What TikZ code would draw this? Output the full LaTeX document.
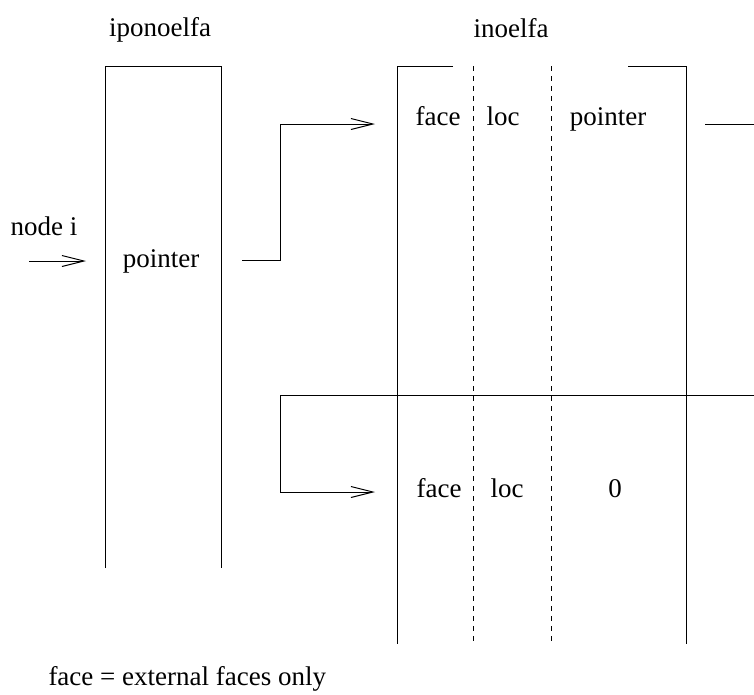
\documentclass[tikz,border=0pt]{standalone}
\usepackage{fontspec}
\setmainfont{Liberation Serif}
\usetikzlibrary{arrows.meta}
\begin{document}
\begin{tikzpicture}[x=1pt,y=-1pt,line width=1pt,
  lbl/.style={anchor=base,inner sep=0pt,font=\fontsize{27}{32}\selectfont},
  sepline/.style={dash pattern=on 5pt off 5pt},
  arr/.style={-{Straight Barb[length=22pt,width=11pt,line width=1pt]}}]
\useasboundingbox (0,0) rectangle (754,694);
% array iponoelfa
\draw (105,568) -- (105,66) -- (221,66) -- (221,568);
% array inoelfa
\draw (453,66) -- (397,66) -- (397,644);
\draw (628,66) -- (686,66) -- (686,644);
\draw[sepline] (473,66) -- (473,644);
\draw[sepline] (551,66) -- (551,644);
\coordinate (midL) at (280,395);
\coordinate (midR) at (754,395);
\draw (midL) -- (midR);
\coordinate (nextL) at (705,124);
\coordinate (nextR) at (754,124);
\draw (nextL) -- (nextR);
% labels
\node[lbl] (tA) at (160,36) {iponoelfa};
\node[lbl] (tB) at (511,37) {inoelfa};
\node[lbl] (ptrL) at (161,267) {pointer};
\node[lbl] (nodei) at (44,235) {node i};
\node[lbl] (f1) at (438,125) {face};
\node[lbl] (l1) at (503,125) {loc};
\node[lbl] (p1) at (608,125) {pointer};
\node[lbl] (f2) at (439,497) {face};
\node[lbl] (l2) at (507,497) {loc};
\node[lbl] (z2) at (615,497) {0};
\node[lbl,anchor=base west] (cap) at (48,685) {face = external faces only};
% connectors
\coordinate (niS) at (29,261);
\coordinate (niT) at (86,261);
\draw[arr] (niS) -- (niT);
\coordinate (aS) at (242,260);
\coordinate (aK1) at (280,260);
\coordinate (aK2) at (280,124);
\coordinate (aT) at (375,124);
\draw[arr] (aS) -- (aK1) -- (aK2) -- (aT);
\coordinate (bK) at (280,492);
\coordinate (bT) at (375,492);
\draw[arr] (midL) -- (bK) -- (bT);
\end{tikzpicture}
\end{document}
